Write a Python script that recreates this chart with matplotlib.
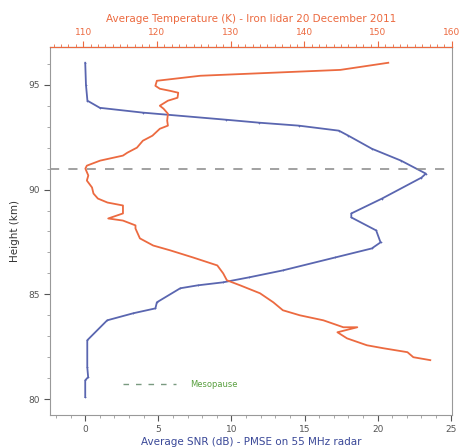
import matplotlib.pyplot as plt
from matplotlib.ticker import MultipleLocator

# PMSE signal-to-noise ratio (55 MHz radar), bottom axis
snr_height = [96.05, 95.0, 94.24, 93.90, 93.67, 93.33, 93.19, 93.05, 92.81, 92.57,
              91.95, 91.38, 90.76, 90.57, 89.57, 88.86, 88.67, 88.05, 87.48, 87.19,
              86.76, 86.14, 85.81, 85.57, 85.43, 85.29, 84.62, 84.33, 84.10, 83.76,
              82.81, 81.52, 81.05, 80.90, 80.10]
snr_db = [0.0, 0.05, 0.15, 1.0, 3.95, 9.66, 11.9, 14.6, 17.35, 18.0,
          19.6, 21.6, 23.3, 23.0, 20.3, 18.2, 18.2, 19.9, 20.2, 19.6,
          17.1, 13.5, 11.2, 9.4, 7.7, 6.5, 4.9, 4.8, 3.3, 1.5,
          0.14, 0.14, 0.2, 0.0, 0.0]

# Iron lidar temperature, top axis
temp_height = [96.05, 95.71, 95.43, 95.19, 94.95, 94.81, 94.71, 94.62, 94.38, 94.24,
               94.0, 93.86, 93.62, 93.29, 93.05, 92.90, 92.57, 92.33, 92.0, 91.76,
               91.62, 91.38, 91.14, 91.0, 90.67, 90.43, 90.10, 89.81, 89.57, 89.38,
               89.24, 88.86, 88.62, 88.52, 88.29, 88.14, 87.67, 87.33, 87.10, 86.76,
               86.38, 86.0, 85.67, 85.43, 85.05, 84.62, 84.24, 84.0, 83.76, 83.43,
               83.43, 83.19, 82.90, 82.57, 82.43, 82.24, 82.0, 81.86]
temp_k = [151.4, 144.9, 125.9, 120.0, 119.8, 120.4, 121.8, 122.9, 122.8, 121.5,
          120.4, 120.9, 121.5, 121.4, 121.5, 120.4, 119.4, 118.1, 117.3, 116.0,
          115.4, 112.3, 110.5, 110.3, 110.7, 110.5, 111.2, 111.4, 112.0, 113.3,
          115.4, 115.4, 113.4, 115.4, 117.1, 117.1, 117.7, 119.5, 121.8, 124.9,
          128.2, 129.0, 129.5, 131.3, 134.0, 135.8, 137.1, 139.4, 142.6, 145.3,
          147.2, 144.5, 145.8, 148.5, 150.7, 154.0, 154.8, 157.1]

mesopause = 91.0

blue = '#5a66b0'
red = '#ec6a40'
green = '#5aa040'

fig = plt.figure(figsize=(4.6, 4.48), dpi=100)
ax = fig.add_axes([0.109, 0.074, 0.874, 0.821])

ax.plot(snr_db, snr_height, color=blue, lw=1.3, marker='+', ms=2, mew=0.5)
ax.axhline(mesopause, color='#888888', lw=1.1, dashes=(6, 6))
ax.plot([2.6, 6.2], [80.7, 80.7], color='#7a9a80', lw=1.0, dashes=(4, 5))
ax.text(7.2, 80.7, 'Mesopause', color=green, fontsize=6, va='center')

ax.set_xlim(-2.4, 25.1)
ax.set_ylim(79.25, 96.8)
ax.xaxis.set_major_locator(MultipleLocator(5))
ax.xaxis.set_minor_locator(MultipleLocator(1))
ax.yaxis.set_major_locator(MultipleLocator(5))
ax.yaxis.set_minor_locator(MultipleLocator(1))
ax.tick_params(labelsize=6.5, colors='#555555', length=4)
ax.tick_params(which='minor', length=2, colors='#999999')
ax.set_xlabel('Average SNR (dB) - PMSE on 55 MHz radar', color='#3a4898', fontsize=7.5, labelpad=2)
ax.set_ylabel('Height (km)', color='#333333', fontsize=7.5, labelpad=6)
for s in ['left', 'bottom', 'right']:
    ax.spines[s].set_color('#999999')
    ax.spines[s].set_linewidth(0.8)

ax2 = ax.twiny()
ax2.plot(temp_k, temp_height, color=red, lw=1.3)
ax2.set_xlim(105.52, 160.07)
ax2.xaxis.set_major_locator(MultipleLocator(10))
ax2.xaxis.set_minor_locator(MultipleLocator(1))
ax2.tick_params(labelsize=6.5, colors=red, length=4)
ax2.tick_params(which='minor', length=2, colors=red)
ax2.spines['top'].set_color(red)
ax2.spines['top'].set_linewidth(0.8)
for s in ['left', 'bottom', 'right']:
    ax2.spines[s].set_visible(False)
ax2.set_xlabel('Average Temperature (K) - Iron lidar 20 December 2011', color=red, fontsize=7.5, labelpad=4)

fig.savefig('out.png', dpi=100)
